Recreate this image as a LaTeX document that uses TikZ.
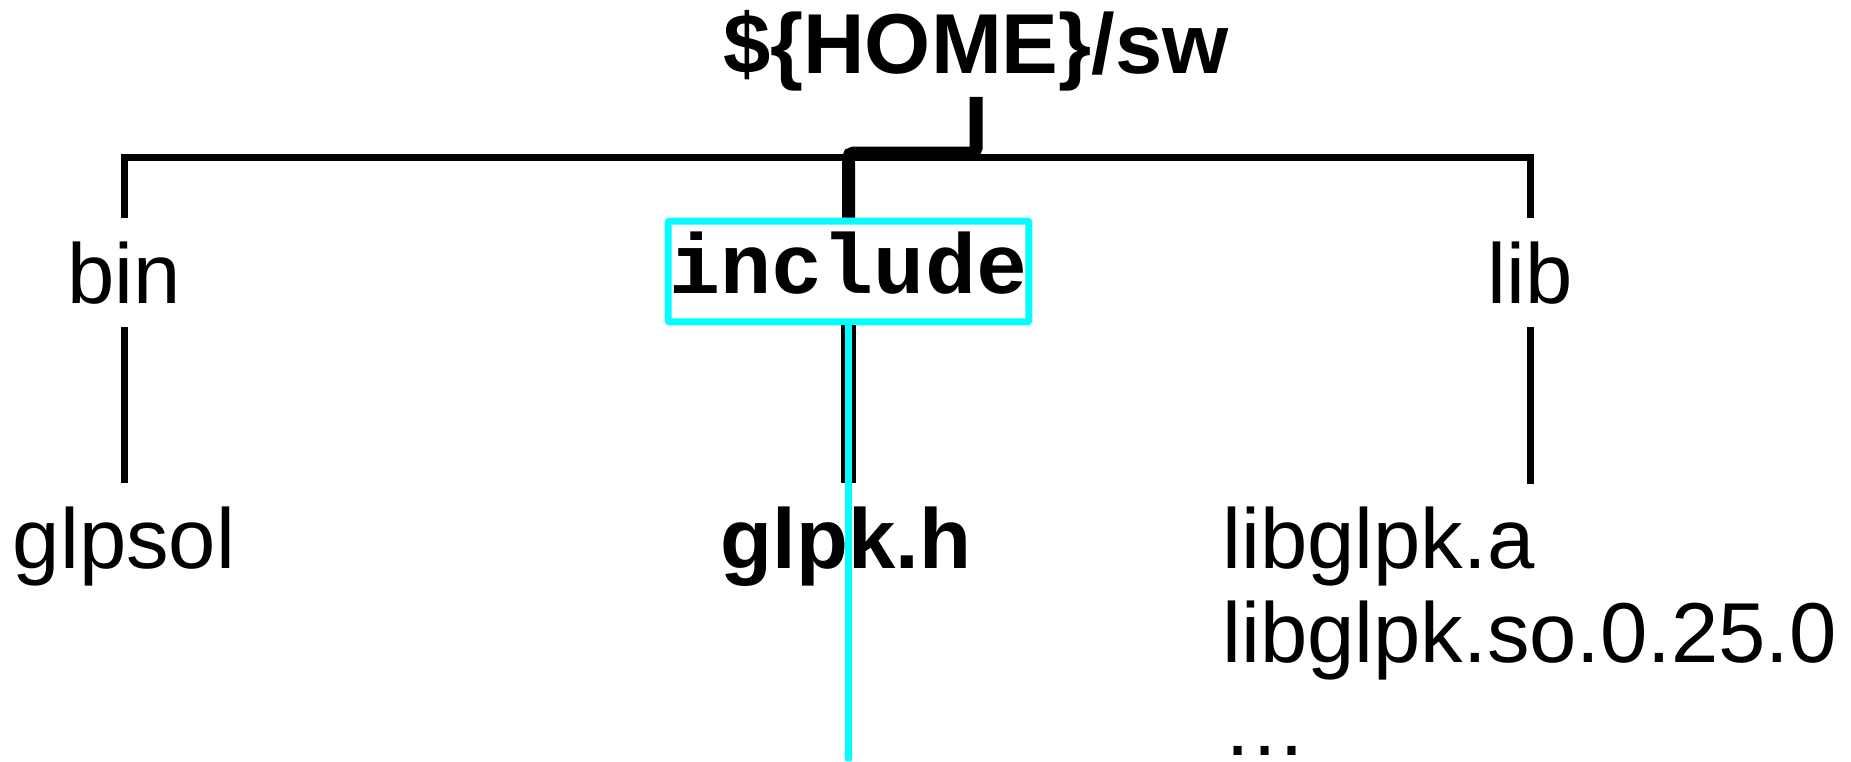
\documentclass[tikz,border=0pt]{standalone}
\usepackage{fontspec}
\setmainfont{Liberation Sans}
\setmonofont{Liberation Mono}
\usetikzlibrary{positioning,calc}
\definecolor{hicyan}{RGB}{0,255,255}
\newcommand{\treefont}{\fontsize{48.4}{53.2}\selectfont}
\tikzset{
  dirlbl/.style={font=\treefont, inner xsep=0pt, inner ysep=0.46cm, anchor=base},
  branch/.style={line width=0.14cm, draw=black},
  trunk/.style={line width=0.26cm, draw=black, rounded corners=0.1cm},
  hilite/.style={rectangle, draw=hicyan, line width=0.14cm, rounded corners=0.04cm,
                 minimum width=7.22cm, minimum height=2.02cm, inner sep=0pt,
                 text height=1.2cm, text depth=0.32cm, font=\treefont\ttfamily\bfseries},
  hiline/.style={line width=0.14cm, draw=hicyan},
  pathline/.style={line width=0.3cm, draw=black},
}

\begin{document}
\begin{tikzpicture}[x=0.02cm, y=-0.02cm]
\useasboundingbox (0,0) rectangle (1851,761);

% ===================== root ==============================================
\node[dirlbl, font=\treefont\bfseries, inner ysep=0.12cm] (home) at (976,73) {\$\{HOME\}/sw};
\coordinate (bus) at (0,157);
\coordinate (trunkbus) at (0,153);

% ===================== first level =======================================
\node[dirlbl] (bin) at (124,303) {bin};
\node[hilite] (include) at (848.5,271.5) {include};
\node[dirlbl] (lib) at (1530,303) {lib};

% ===================== files =============================================
\node[dirlbl] (glpsol) at (124,568) {glpsol};
\node[dirlbl, font=\treefont\bfseries] (glpkh) at (846,568) {glpk.h};
\node[dirlbl, anchor=north west, align=left, inner ysep=0pt] (libs) at (1222,507)
  {libglpk.a\\libglpk.so.0.25.0\\…};
\coordinate (libtop) at (1530,484);

% ---- tree lines ----------------------------------------------------------
\draw[branch] (bin.north) -- (bin.north |- bus) -- (lib.north |- bus) -- (lib.north);
\draw[trunk] (home.south) -- (home.south |- trunkbus) -| (include.north);
\draw[branch] (bin.south) -- (glpsol.north);
\draw[branch] (lib.south) -- (libtop);

% ---- highlighted path ----------------------------------------------------
\draw[pathline] (include.south) -- (include.south |- glpkh.north);
\coordinate (cend) at (848.5,761);
\draw[hiline] (include.south) -- (cend);

\end{tikzpicture}
\end{document}
